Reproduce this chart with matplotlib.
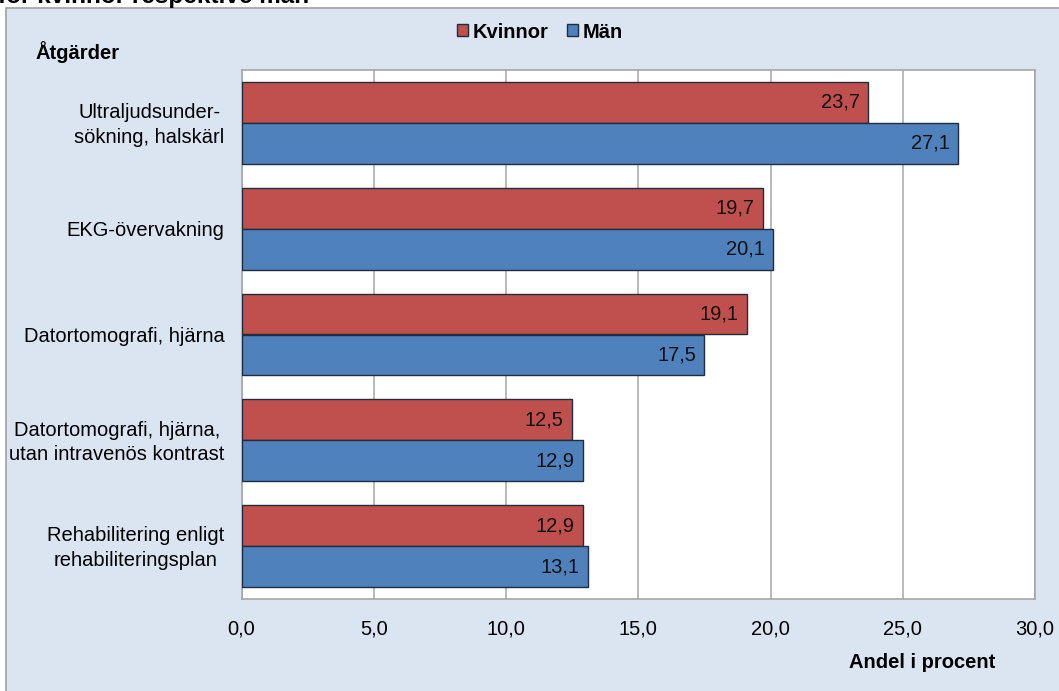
import matplotlib
matplotlib.use("Agg")
import matplotlib.pyplot as plt
from matplotlib.patches import Rectangle, Patch

# Data
categories = [
    "Ultraljudsunder-\nsökning, halskärl",
    "EKG-övervakning",
    "Datortomografi, hjärna",
    "Datortomografi, hjärna,\nutan intravenös kontrast",
    "Rehabilitering enligt\nrehabiliteringsplan",
]
kvinnor = [23.7, 19.7, 19.1, 12.5, 12.9]
man = [27.1, 20.1, 17.5, 12.9, 13.1]
series_names = ["Kvinnor", "Män"]
xticks = [0, 5, 10, 15, 20, 25, 30]
xtick_labels = ["0,0", "5,0", "10,0", "15,0", "20,0", "25,0", "30,0"]

RED = "#C0504D"
BLUE = "#4F81BD"
PANEL = "#DBE5F1"
EDGE = "#1F2D3D"
GRID = "#B3B3B3"

SANS = ["Liberation Sans", "DejaVu Sans"]
NARROW = ["Liberation Sans Narrow", "Liberation Sans", "DejaVu Sans"]
FS = 14.5

W, H = 1059, 691
fig = plt.figure(figsize=(W / 100, H / 100), dpi=100, facecolor="white")

# Light blue chart panel behind everything
panel = Rectangle((6 / W, -0.01), 1.0, (H - 8) / H + 0.01,
                  transform=fig.transFigure, facecolor=PANEL,
                  edgecolor="#A0A0A0", linewidth=1.2, zorder=-10)
fig.patches.append(panel)

# Title line, mostly above the top edge
fig.text(-2 / W, 1 - 3 / H, "för kvinnor respektive män", fontsize=17.5,
         fontweight="bold", family=SANS, ha="left", va="baseline", zorder=5)

ax = fig.add_axes([241.5 / W, 1 - 599 / H, (1035 - 241.5) / W, (599 - 70) / H])
ax.set_zorder(1)
ax.set_facecolor("white")

n = len(categories)
ypos = list(range(n))
h = 0.3875
ax.barh([y - h / 2 for y in ypos], kvinnor, height=h, color=RED,
        edgecolor=EDGE, linewidth=1.0, zorder=3)
ax.barh([y + h / 2 for y in ypos], man, height=h, color=BLUE,
        edgecolor=EDGE, linewidth=1.0, zorder=3)

for y, v in zip(ypos, kvinnor):
    ax.annotate(f"{v:.1f}".replace(".", ","), xy=(v, y - h / 2), xytext=(-6, 0),
                textcoords="offset points", ha="right", va="center",
                fontsize=FS, family=SANS, color="#111111", zorder=4)
for y, v in zip(ypos, man):
    ax.annotate(f"{v:.1f}".replace(".", ","), xy=(v, y + h / 2), xytext=(-6, 0),
                textcoords="offset points", ha="right", va="center",
                fontsize=FS, family=SANS, color="#111111", zorder=4)

ax.set_xlim(0, 30)
ax.set_ylim(n - 0.5, -0.5)
ax.set_xticks(xticks)
ax.set_xticklabels(xtick_labels, family=NARROW, fontsize=FS)
ax.set_yticks(ypos)
ax.set_yticklabels([])
ax.tick_params(axis="x", length=0, pad=15)
ax.tick_params(axis="y", length=0)

# Category labels, centred lines, right edge next to the axis
for y, name in zip(ypos, categories):
    ax.annotate(name, xy=(0, y), xycoords=("axes fraction", "data"),
                xytext=(-12.3, -1.5), textcoords="offset points",
                ha="right", va="center", multialignment="center",
                linespacing=1.36, fontsize=FS, family=SANS,
                annotation_clip=False)

ax.grid(axis="x", color=GRID, linewidth=1.3, zorder=0)
ax.set_axisbelow(True)
for s in ax.spines.values():
    s.set_color("#A6A6A6")
    s.set_linewidth(1.2)

# Legend
handles = [Patch(facecolor=RED, edgecolor=EDGE, linewidth=1.0),
           Patch(facecolor=BLUE, edgecolor=EDGE, linewidth=1.0)]
fig.legend(handles, series_names, loc="center", bbox_to_anchor=(540 / W, 1 - 32 / H),
           ncol=2, frameon=False, handlelength=0.55, handleheight=0.55,
           handletextpad=0.25, columnspacing=0.9,
           prop={"family": SANS, "size": FS, "weight": "bold"})

fig.text(36 / W, 1 - 52 / H, "Åtgärder", fontsize=FS, fontweight="bold",
         family=SANS, ha="left", va="center")
fig.text(922 / W, 1 - 663 / H, "Andel i procent", fontsize=FS, fontweight="bold",
         family=NARROW, ha="center", va="center")

fig.savefig("out.png", dpi=100, facecolor="white")
